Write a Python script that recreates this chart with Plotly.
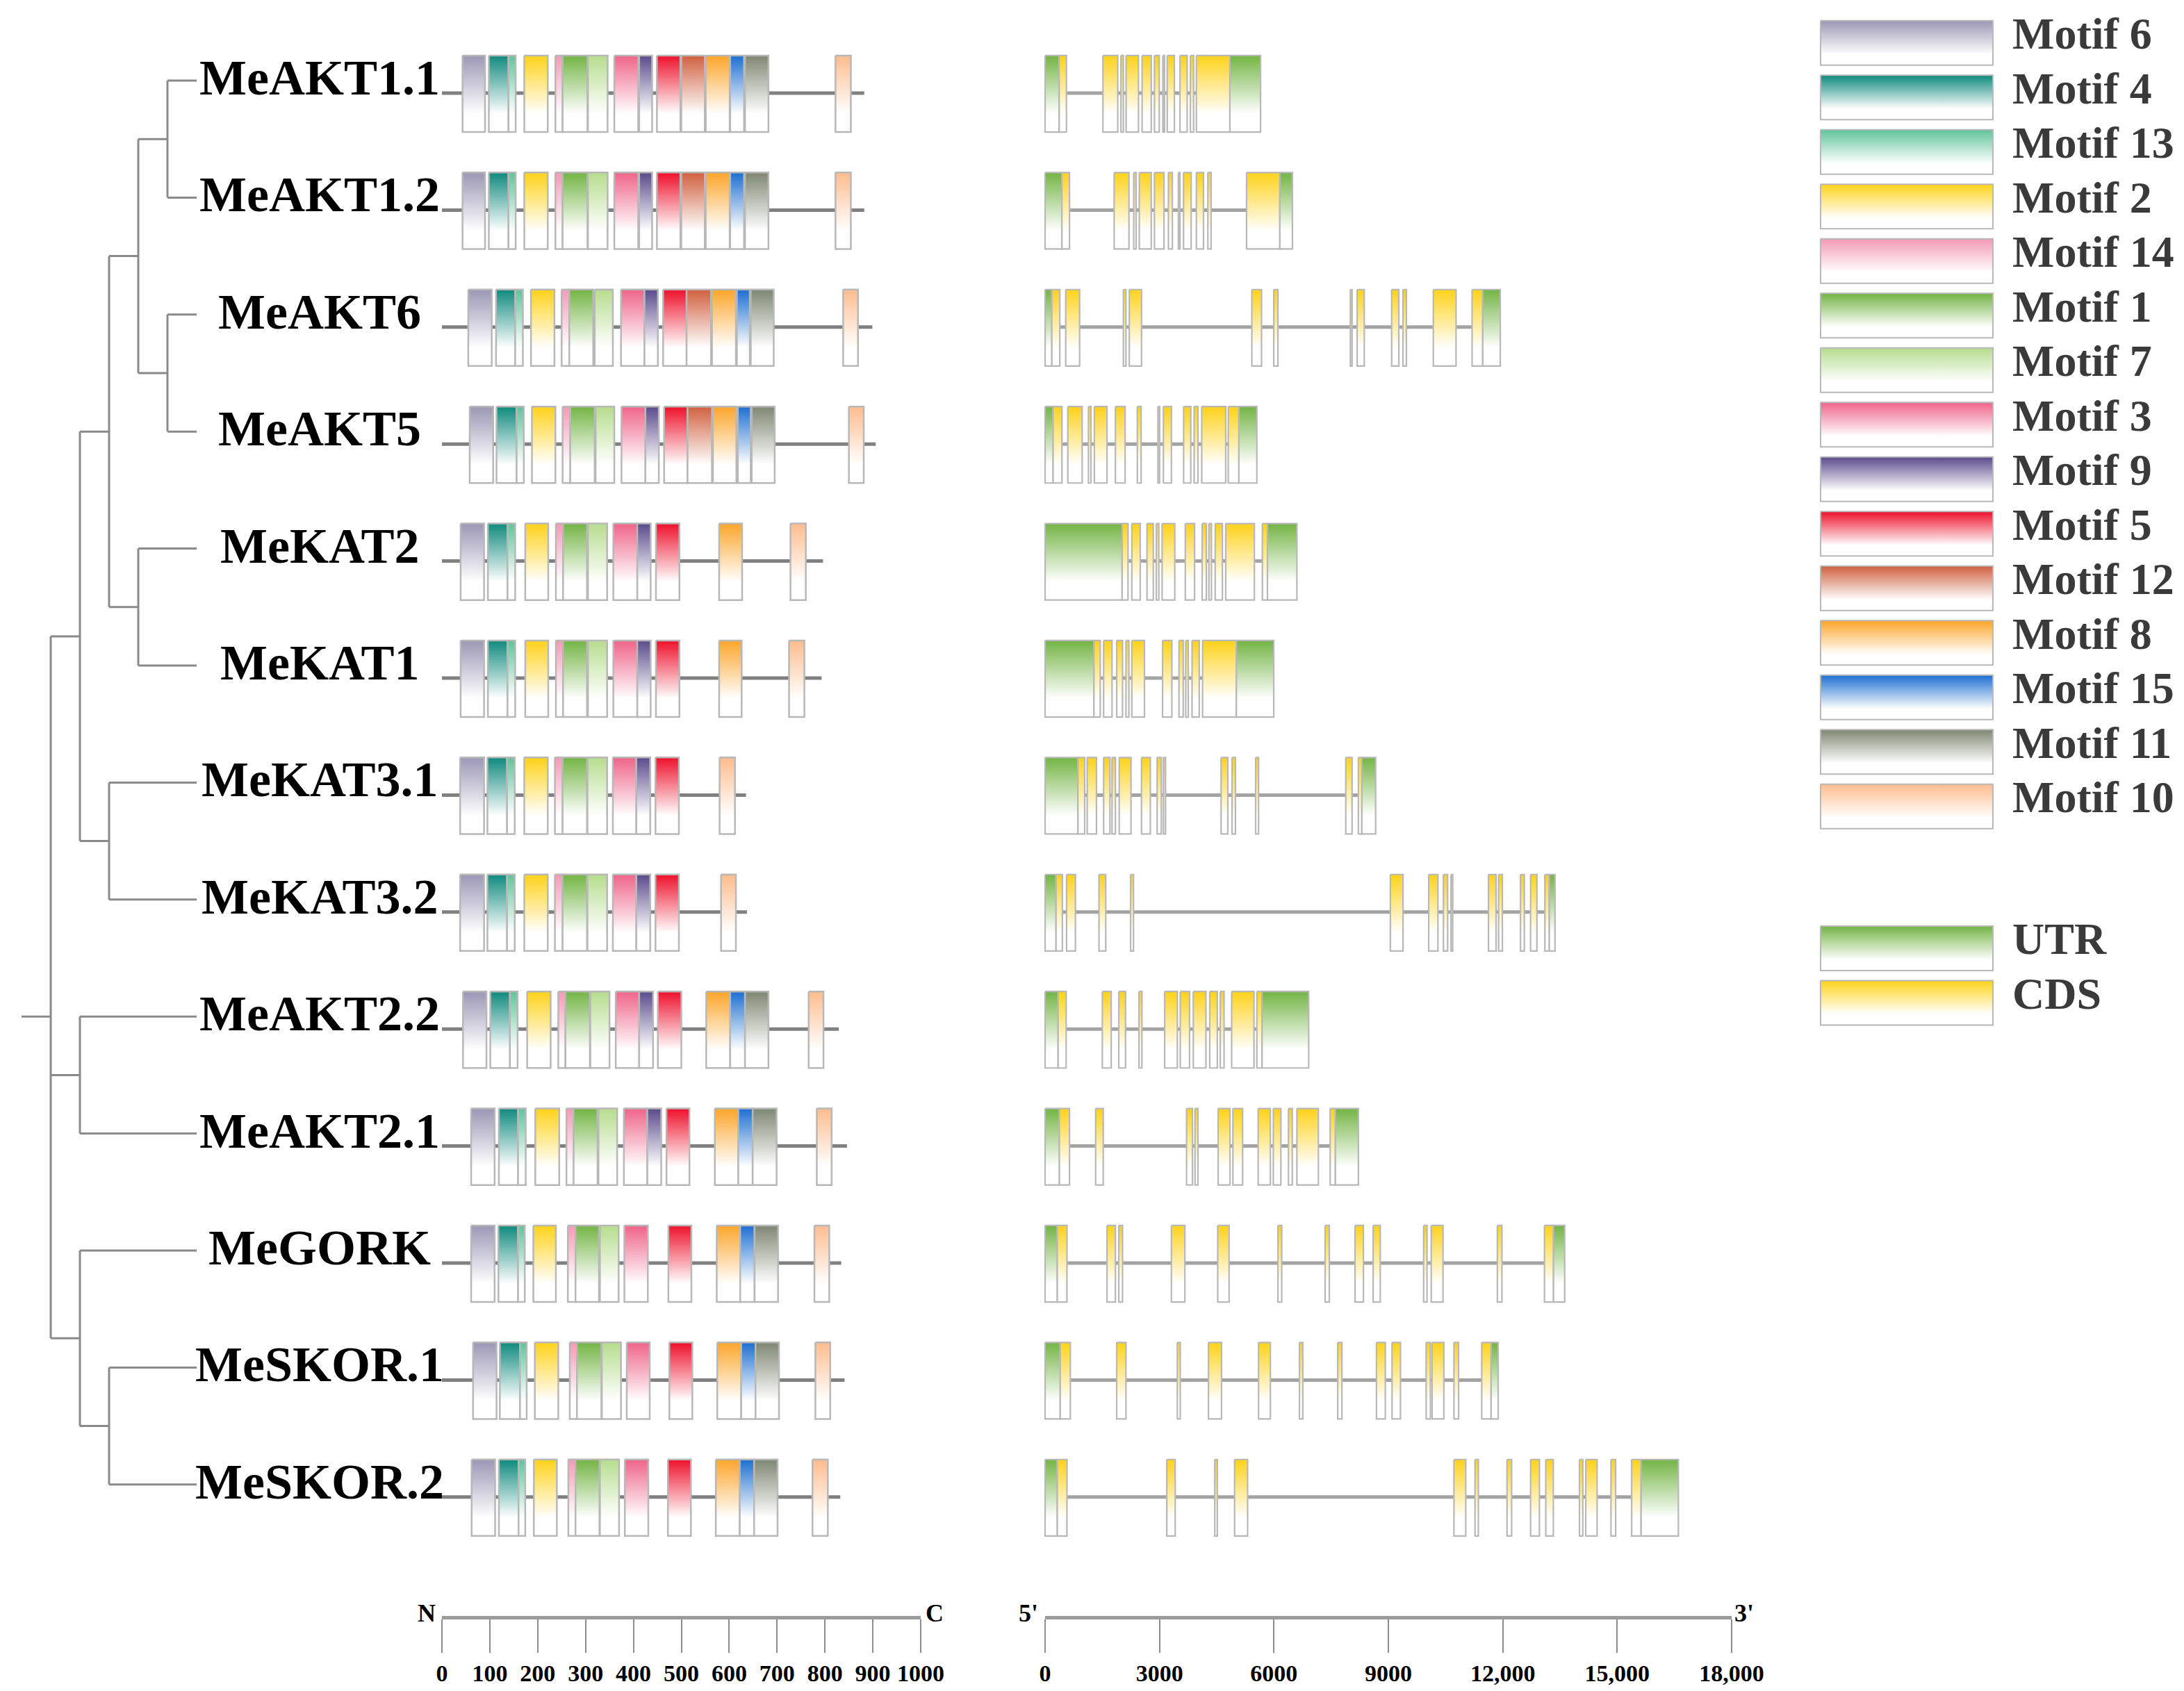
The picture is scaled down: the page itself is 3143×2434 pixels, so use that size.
import plotly.graph_objects as go

W, H = 3143, 2434

# ---------------- data ----------------
GENES = ["MeAKT1.1", "MeAKT1.2", "MeAKT6", "MeAKT5", "MeKAT2", "MeKAT1", "MeKAT3.1",
         "MeKAT3.2", "MeAKT2.2", "MeAKT2.1", "MeGORK", "MeSKOR.1", "MeSKOR.2"]

PROTEIN_LEN = [882, 882, 899, 906, 796, 793, 635, 637, 829, 846, 834, 841, 832]

MOTIF_ORDER = [6, 4, 13, 2, 14, 1, 7, 3, 9, 5, 12, 8, 15, 11, 10]
MOTIF_COLORS = {6: "#9b97b5", 4: "#0f8a7d", 13: "#5fc49a", 2: "#ffd21a", 14: "#f49ab5",
                1: "#73b444", 7: "#b6dd8d", 3: "#ef6489", 9: "#5a4a8c", 5: "#ee102b",
                12: "#d0603f", 8: "#fca52a", 15: "#1d6fd1", 11: "#7e8772", 10: "#ffbc8d"}
UTR_COLOR = "#73b444"
CDS_COLOR = "#ffd21a"

# motif (id, start aa, end aa)
M_AKT1_1 = [(6, 43, 90), (4, 98, 139), (13, 139, 154), (2, 172, 221), (14, 237, 252), (1, 252, 304),
            (7, 305, 346), (3, 360, 410), (9, 412, 439), (5, 449, 498), (12, 500, 549), (8, 551, 601),
            (15, 602, 631), (11, 633, 682), (10, 822, 854)]
M_AKT1_2 = [(6, 43, 90), (4, 98, 139), (13, 139, 154), (2, 172, 221), (14, 237, 252), (1, 252, 304),
            (7, 305, 346), (3, 360, 410), (9, 412, 439), (5, 449, 498), (12, 500, 549), (8, 551, 601),
            (15, 602, 631), (11, 633, 682), (10, 822, 854)]
M_AKT6 = [(6, 55, 104), (4, 113, 153), (13, 153, 169), (2, 186, 235), (14, 250, 266), (1, 266, 316),
          (7, 319, 357), (3, 374, 423), (9, 423, 451), (5, 462, 511), (12, 511, 562), (8, 564, 614),
          (15, 616, 643), (11, 645, 693), (10, 838, 869)]
M_AKT5 = [(6, 58, 107), (4, 114, 156), (13, 156, 171), (2, 188, 237), (14, 252, 268), (1, 268, 319),
          (7, 321, 360), (3, 375, 425), (9, 425, 453), (5, 464, 513), (12, 513, 564), (8, 566, 615),
          (15, 618, 645), (11, 647, 695), (10, 850, 881)]
M_KAT2 = [(6, 39, 88), (4, 96, 137), (13, 137, 153), (2, 174, 222), (14, 238, 253), (1, 253, 303),
          (7, 305, 345), (3, 358, 408), (9, 408, 436), (5, 447, 496), (8, 579, 627), (10, 728, 760)]
M_KAT1 = [(6, 39, 88), (4, 96, 137), (13, 137, 153), (2, 174, 222), (14, 238, 253), (1, 253, 303),
          (7, 305, 345), (3, 358, 408), (9, 408, 436), (5, 447, 496), (8, 579, 626), (10, 725, 757)]
M_KAT3_1 = [(6, 38, 88), (4, 95, 136), (13, 136, 152), (2, 172, 221), (14, 236, 252), (1, 252, 303),
            (7, 304, 345), (3, 357, 406), (9, 406, 435), (5, 446, 495), (10, 580, 612)]
M_KAT3_2 = [(6, 38, 88), (4, 95, 136), (13, 136, 152), (2, 172, 221), (14, 236, 252), (1, 252, 303),
            (7, 304, 345), (3, 357, 406), (9, 406, 435), (5, 446, 495), (10, 583, 614)]
M_AKT2_2 = [(6, 44, 93), (4, 101, 142), (13, 142, 158), (2, 178, 227), (14, 243, 258), (1, 258, 309),
            (7, 310, 350), (3, 363, 412), (9, 412, 441), (5, 451, 500), (8, 552, 602), (15, 602, 633),
            (11, 633, 682), (10, 766, 797)]
M_AKT2_1 = [(6, 61, 110), (4, 119, 159), (13, 159, 175), (2, 195, 245), (14, 260, 275), (1, 275, 325),
            (7, 327, 366), (3, 380, 429), (9, 429, 458), (5, 469, 517), (8, 570, 619), (15, 619, 649),
            (11, 649, 699), (10, 783, 814)]
M_GORK = [(6, 61, 110), (4, 118, 159), (13, 159, 173), (2, 191, 238), (14, 263, 279), (1, 279, 328),
          (7, 330, 369), (3, 381, 430), (5, 473, 521), (8, 574, 623), (15, 623, 653), (11, 653, 702),
          (10, 778, 809)]
M_SKOR_1 = [(6, 65, 114), (4, 121, 163), (13, 163, 177), (2, 194, 243), (14, 267, 282), (1, 282, 333),
            (7, 334, 374), (3, 386, 434), (5, 475, 523), (8, 575, 625), (15, 625, 655), (11, 655, 704),
            (10, 780, 811)]
M_SKOR_2 = [(6, 62, 111), (4, 119, 160), (13, 160, 174), (2, 192, 240), (14, 264, 279), (1, 279, 329),
            (7, 330, 370), (3, 382, 431), (5, 472, 520), (8, 572, 622), (15, 622, 652), (11, 652, 701),
            (10, 774, 806)]
MOTIFS = [M_AKT1_1, M_AKT1_2, M_AKT6, M_AKT5, M_KAT2, M_KAT1, M_KAT3_1, M_KAT3_2,
          M_AKT2_2, M_AKT2_1, M_GORK, M_SKOR_1, M_SKOR_2]

# gene structure (U = UTR, C = CDS, start bp, end bp)
S_AKT1_1 = [("U", 0, 370), ("C", 370, 560), ("C", 1517, 1905), ("C", 1989, 2051), ("C", 2124, 2448),
            ("C", 2543, 2783), ("C", 2867, 2993), ("C", 3088, 3130), ("C", 3202, 3390), ("C", 3536, 3725),
            ("C", 3809, 3893), ("C", 3966, 4844), ("U", 4844, 5649)]
S_AKT1_2 = [("U", 0, 441), ("C", 441, 640), ("C", 1811, 2199), ("C", 2324, 2386), ("C", 2470, 2783),
            ("C", 2867, 3118), ("C", 3233, 3337), ("C", 3494, 3536), ("C", 3630, 3829), ("C", 3966, 4153),
            ("C", 4268, 4352), ("C", 5282, 6151), ("U", 6151, 6485)]
S_AKT6 = [("U", 0, 177), ("C", 177, 386), ("C", 541, 905), ("C", 2053, 2120), ("C", 2208, 2528),
          ("C", 5421, 5675), ("C", 5995, 6105), ("C", 8004, 8048), ("C", 8181, 8368), ("C", 9086, 9274),
          ("C", 9384, 9472), ("C", 10179, 10775), ("C", 11195, 11471), ("U", 11471, 11934)]
S_AKT5 = [("U", 0, 210), ("C", 210, 442), ("C", 596, 972), ("C", 1137, 1203), ("C", 1292, 1623),
          ("C", 1844, 2098), ("C", 2418, 2517), ("C", 2959, 3003), ("C", 3102, 3312), ("C", 3632, 3820),
          ("C", 3908, 4008), ("C", 4107, 4736), ("C", 4802, 5078), ("U", 5078, 5553)]
S_KAT2 = [("U", 0, 2020), ("C", 2020, 2175), ("C", 2274, 2495), ("C", 2672, 2837), ("C", 2915, 2981),
          ("C", 3069, 3400), ("C", 3676, 3919), ("C", 4118, 4228), ("C", 4295, 4361), ("C", 4460, 4648),
          ("C", 4736, 5487), ("C", 5697, 5829), ("U", 5829, 6602)]
S_KAT1 = [("U", 0, 1281), ("C", 1281, 1446), ("C", 1535, 1755), ("C", 1877, 2031), ("C", 2120, 2197),
          ("C", 2274, 2605), ("C", 3080, 3323), ("C", 3511, 3621), ("C", 3687, 3754), ("C", 3853, 4041),
          ("C", 4129, 5012), ("U", 5012, 5995)]
S_KAT3_1 = [("U", 0, 861), ("C", 861, 1038), ("C", 1104, 1347), ("C", 1535, 1700), ("C", 1755, 1844),
            ("C", 1943, 2252), ("C", 2528, 2760), ("C", 2937, 3047), ("C", 3102, 3157), ("C", 4615, 4791),
            ("C", 4902, 4990), ("C", 5520, 5597), ("C", 7883, 8048), ("C", 8214, 8302), ("U", 8302, 8666)]
S_KAT3_2 = [("U", 0, 287), ("C", 287, 453), ("C", 563, 795), ("C", 1413, 1590), ("C", 2241, 2318),
            ("C", 9053, 9384), ("C", 10057, 10300), ("C", 10444, 10554), ("C", 10643, 10687),
            ("C", 11625, 11824), ("C", 11890, 11989), ("C", 12464, 12564), ("C", 12729, 12895),
            ("C", 13104, 13215), ("U", 13215, 13369)]
S_AKT2_2 = [("U", 0, 342), ("C", 342, 552), ("C", 1501, 1733), ("C", 1932, 2109), ("C", 2462, 2539),
            ("C", 3135, 3467), ("C", 3544, 3787), ("C", 3886, 4217), ("C", 4317, 4515), ("C", 4593, 4692),
            ("C", 4891, 5476), ("C", 5553, 5686), ("U", 5686, 6911)]
S_AKT2_1 = [("U", 0, 375), ("C", 375, 640), ("C", 1325, 1524), ("C", 3709, 3864), ("C", 3930, 4008),
            ("C", 4537, 4847), ("C", 4924, 5178), ("C", 5586, 5906), ("C", 5984, 6182), ("C", 6381, 6480),
            ("C", 6602, 7165), ("C", 7474, 7607), ("U", 7607, 8214)]
S_GORK = [("U", 0, 320), ("C", 320, 574), ("C", 1623, 1844), ("C", 1932, 2031), ("C", 3312, 3665),
          ("C", 4526, 4824), ("C", 6105, 6204), ("C", 7342, 7452), ("C", 8126, 8346), ("C", 8600, 8788),
          ("C", 9925, 10013), ("C", 10124, 10433), ("C", 11857, 11978), ("C", 13093, 13325),
          ("U", 13325, 13623)]
S_SKOR_1 = [("U", 0, 397), ("C", 397, 662), ("C", 1877, 2120), ("C", 3467, 3544), ("C", 4284, 4626),
            ("C", 5597, 5906), ("C", 6668, 6756), ("C", 7673, 7783), ("C", 8688, 8920), ("C", 9097, 9318),
            ("C", 9991, 10102), ("C", 10146, 10455), ("C", 10720, 10841), ("C", 11448, 11691),
            ("U", 11691, 11879)]
S_SKOR_2 = [("U", 0, 320), ("C", 320, 574), ("C", 3191, 3411), ("C", 4449, 4515), ("C", 4968, 5310),
            ("C", 10720, 11029), ("C", 11272, 11360), ("C", 12111, 12232), ("C", 12729, 12961),
            ("C", 13127, 13325), ("C", 14010, 14098), ("C", 14175, 14473), ("C", 14837, 14959),
            ("C", 15379, 15622), ("U", 15622, 16604)]
STRUCTS = [S_AKT1_1, S_AKT1_2, S_AKT6, S_AKT5, S_KAT2, S_KAT1, S_KAT3_1, S_KAT3_2,
           S_AKT2_2, S_AKT2_1, S_GORK, S_SKOR_1, S_SKOR_2]

# phylogenetic tree (topology)
TREE = (((((("MeAKT1.1", "MeAKT1.2"), ("MeAKT6", "MeAKT5")), ("MeKAT2", "MeKAT1")),
          ("MeKAT3.1", "MeKAT3.2")),
         ("MeAKT2.2", "MeAKT2.1"),
         ("MeGORK", ("MeSKOR.1", "MeSKOR.2"))))

PROT_TICKS = [0, 100, 200, 300, 400, 500, 600, 700, 800, 900, 1000]
PROT_TICKTEXT = ["0", "100", "200", "300", "400", "500", "600", "700", "800", "900", "1000"]
GENE_TICKS = [0, 3000, 6000, 9000, 12000, 15000, 18000]
GENE_TICKTEXT = ["0", "3000", "6000", "9000", "12,000", "15,000", "18,000"]

# ---------------- geometry / style ----------------
BOX_TOP = 0.321
BOX_BOT = 0.333
LEAF_OFF = 0.107
LEAF_DEPTH = 6
FONT = "Liberation Serif"
BORDER = "#b8b8b8"

fig = go.Figure()


def box_trace(segs, y0, y1, color, xa, ya, lw=2.5):
    xs, ys = [], []
    for s, e in segs:
        xs += [s, e, e, s, s, None]
        ys += [y1, y1, y0, y0, y1, None]
    return go.Scatter(
        x=xs, y=ys, mode="lines", fill="toself",
        fillgradient=dict(type="vertical", start=y0, stop=y1,
                          colorscale=[[0, "#ffffff"], [0.24, "#ffffff"], [1, color]]),
        line=dict(color=BORDER, width=lw), xaxis=xa, yaxis=ya,
        hoverinfo="skip", showlegend=False)


# tree
tx, ty = [], []
leaf_index = {g: i for i, g in enumerate(GENES)}


def draw(node, depth):
    if isinstance(node, str):
        return -leaf_index[node] + LEAF_OFF, LEAF_DEPTH
    kids = [draw(k, depth + 1) for k in node]
    ys = [k[0] for k in kids]
    for (cy, cx) in kids:
        tx.extend([depth, cx, None])
        ty.extend([cy, cy, None])
    tx.extend([depth, depth, None])
    ty.extend([min(ys), max(ys), None])
    return sum(ys) / len(ys), depth


root_y, root_x = draw(TREE, 1)
tx.extend([0, root_x, None])
ty.extend([root_y, root_y, None])
fig.add_trace(go.Scatter(x=tx, y=ty, mode="lines", line=dict(color="#8a8a8a", width=3),
                         xaxis="x3", yaxis="y", hoverinfo="skip", showlegend=False))

# protein lines
px_, py_ = [], []
for i, L in enumerate(PROTEIN_LEN):
    px_ += [0, L, None]
    py_ += [-i, -i, None]
fig.add_trace(go.Scatter(x=px_, y=py_, mode="lines", line=dict(color="#808080", width=5),
                         xaxis="x", yaxis="y", hoverinfo="skip", showlegend=False))

# gene intron lines
gx_, gy_ = [], []
for i, st in enumerate(STRUCTS):
    gx_ += [0, max(e for _, _, e in st), None]
    gy_ += [-i, -i, None]
fig.add_trace(go.Scatter(x=gx_, y=gy_, mode="lines", line=dict(color="#a3a3a3", width=5),
                         xaxis="x2", yaxis="y", hoverinfo="skip", showlegend=False))

# motif boxes
for i, mlist in enumerate(MOTIFS):
    y0, y1 = -i - BOX_BOT, -i + BOX_TOP
    for m in MOTIF_ORDER:
        segs = [(s, e) for mid, s, e in mlist if mid == m]
        if segs:
            fig.add_trace(box_trace(segs, y0, y1, MOTIF_COLORS[m], "x", "y"))

# exon boxes
for i, st in enumerate(STRUCTS):
    y0, y1 = -i - BOX_BOT, -i + BOX_TOP
    for kind, col in (("U", UTR_COLOR), ("C", CDS_COLOR)):
        segs = [(s, e) for k, s, e in st if k == kind]
        if segs:
            fig.add_trace(box_trace(segs, y0, y1, col, "x2", "y", lw=2.2))

# legend
LEG_ITEMS = [("Motif %d" % m, MOTIF_COLORS[m]) for m in MOTIF_ORDER] + [("UTR", UTR_COLOR), ("CDS", CDS_COLOR)]
LEG_POS = list(range(len(MOTIF_ORDER))) + [16.6, 17.6]
annotations = []
for (label, col), k in zip(LEG_ITEMS, LEG_POS):
    fig.add_trace(box_trace([(2620, 2868)], -k - 0.815, -k, col, "x4", "y2", lw=2))
    annotations.append(dict(x=2894, y=-k - 0.24, xref="x4", yref="y2", text=label, showarrow=False,
                            xanchor="left", yanchor="middle",
                            font=dict(family=FONT, size=64, color="#3a3a3a", weight="bold")))

# gene names
for i, g in enumerate(GENES):
    annotations.append(dict(x=460 / W, y=-i + LEAF_OFF, xref="paper", yref="y", text=g, showarrow=False,
                            xanchor="center", yanchor="middle", yshift=4,
                            font=dict(family=FONT, size=72, color="#000000", weight="bold")))

# scale end labels
axis_y = 1 - 2328 / H
for txt, xr, xv, sh in (("N", "x5", 0, -22), ("C", "x5", 1000, 20), ("5'", "x6", 0, -24), ("3'", "x6", 18000, 18)):
    annotations.append(dict(x=xv, y=axis_y, xref=xr, yref="paper", text=txt, showarrow=False,
                            xanchor="center", yanchor="middle", xshift=sh, yshift=6,
                            font=dict(family=FONT, size=36, color="#000000", weight="bold")))

# dummy traces to activate scale axes
fig.add_trace(go.Scatter(x=[0], y=[-100], mode="markers", xaxis="x5", yaxis="y",
                         marker=dict(opacity=0), hoverinfo="skip", showlegend=False))
fig.add_trace(go.Scatter(x=[0], y=[-100], mode="markers", xaxis="x6", yaxis="y",
                         marker=dict(opacity=0), hoverinfo="skip", showlegend=False))

hidden = dict(visible=False, showgrid=False, zeroline=False)
scale_common = dict(anchor="free", position=axis_y, showgrid=False, zeroline=False, showline=True,
                    linecolor="#9a9a9a", linewidth=5, ticks="outside", ticklen=48, tickwidth=2,
                    tickcolor="#8c8c8c", tickfont=dict(family=FONT, size=34, color="#000000", weight="bold"),
                    fixedrange=True, automargin=False)

fig.update_layout(
    width=W, height=H, margin=dict(l=0, r=0, t=0, b=0, pad=0, autoexpand=False), autosize=False,
    paper_bgcolor="white", plot_bgcolor="rgba(0,0,0,0)", showlegend=False,
    xaxis=dict(domain=[600 / W, 1360 / W], range=[-(636 - 600) / 0.689, 1000 + (1360 - 1325) / 0.689], **hidden),
    xaxis2=dict(domain=[1480 / W, 2520 / W], range=[-(1504 - 1480) / 0.05489, 18000 + (2520 - 2492) / 0.05489], **hidden),
    xaxis3=dict(domain=[0, 300 / W], range=[-31 / 42, (300 - 31) / 42], **hidden),
    xaxis4=dict(domain=[2600 / W, 1], range=[2600, 3143], **hidden),
    xaxis5=dict(domain=[636 / W, 1325 / W], range=[0, 1000], tickvals=PROT_TICKS, ticktext=PROT_TICKTEXT, **scale_common),
    xaxis6=dict(domain=[1504 / W, 2492 / W], range=[0, 18000], tickvals=GENE_TICKS, ticktext=GENE_TICKTEXT, **scale_common),
    yaxis=dict(domain=[0, 1], range=[0.7957 - H / 168.4, 0.7957], **hidden),
    yaxis2=dict(domain=[0, 1], range=[-(H - 29.8) / 78.5, 29.8 / 78.5], **hidden),
    annotations=annotations,
)

fig.write_html("out.html", config={"displayModeBar": False},
               post_script="document.body.style.margin='0';document.body.style.overflow='hidden';")
